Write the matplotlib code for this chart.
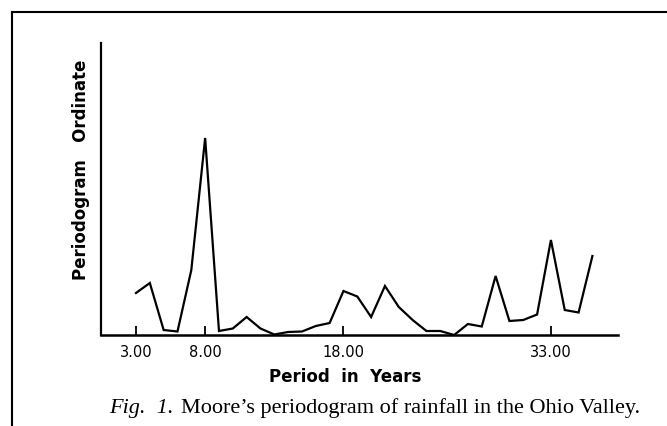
import matplotlib
matplotlib.use("Agg")
import matplotlib.pyplot as plt
from matplotlib.lines import Line2D

# Data (ordinate in arbitrary units)
periods = [3, 4, 5, 6, 7, 8, 9, 10, 11, 12, 13, 14, 15, 16, 17, 18, 19, 20,
           21, 22, 23, 24, 25, 26, 27, 28, 29, 30, 31, 32, 33, 34, 35, 36]
ordinate = [42, 52, 5, 3.5, 65, 197, 4, 6.5, 18, 6.5, 0.5, 3, 3.5, 9, 12, 44,
            38.5, 18, 49, 28, 15, 4, 4, 0, 11, 8.5, 59, 14, 15, 20.5, 95, 25,
            22.5, 79]
tick_positions = [3, 8, 18, 33]
tick_labels = ["3.00", "8.00", "18.00", "33.00"]

W, H = 667, 426
fig = plt.figure(figsize=(W / 100, H / 100), dpi=100)
fig.patch.set_facecolor("white")

# axes placement (pixels -> fractions)
ax_left, ax_right, ax_top, ax_bottom = 101, 618, 43, 335
ax = fig.add_axes([ax_left / W, 1 - ax_bottom / H,
                   (ax_right - ax_left) / W, (ax_bottom - ax_top) / H])

ax.plot(periods, ordinate, color="black", lw=1.6, clip_on=False,
        solid_joinstyle="miter")

ax.set_xlim(0.47, 37.85)
ax.set_ylim(0, 292)

for s in ["top", "right"]:
    ax.spines[s].set_visible(False)
ax.spines["left"].set_linewidth(1.6)
ax.spines["bottom"].set_linewidth(1.8)

ax.set_xticks(tick_positions)
ax.set_xticklabels(tick_labels, fontsize=10.5, family="DejaVu Sans")
ax.tick_params(axis="x", direction="in", length=6.5, width=1.3, pad=7)
ax.set_yticks([])

# x label
fig.text(345.5 / W, 1 - 377 / H, "Period  in  Years",
         ha="center", va="center", fontsize=12, family="DejaVu Sans",
         weight="bold")
# y label
fig.text(81 / W, 1 - 170 / H, "Periodogram   Ordinate", rotation=90,
         ha="center", va="center", fontsize=12, family="DejaVu Sans",
         weight="bold")

# caption
fig.text(109 / W, 1 - 408 / H, "Fig.  1.", ha="left", va="center",
         fontsize=16, family="Liberation Serif", style="italic")
fig.text(181 / W, 1 - 408 / H,
         "Moore\u2019s periodogram of rainfall in the Ohio Valley.",
         ha="left", va="center", fontsize=16, family="Liberation Serif")

# frame lines
fig.add_artist(Line2D([12 / W, 1.0], [1 - 12 / H, 1 - 12 / H],
                      transform=fig.transFigure, color="black", lw=1.5))
fig.add_artist(Line2D([12 / W, 12 / W], [1 - 12 / H, 0.0],
                      transform=fig.transFigure, color="black", lw=1.5))

fig.savefig("out.png", dpi=100)
